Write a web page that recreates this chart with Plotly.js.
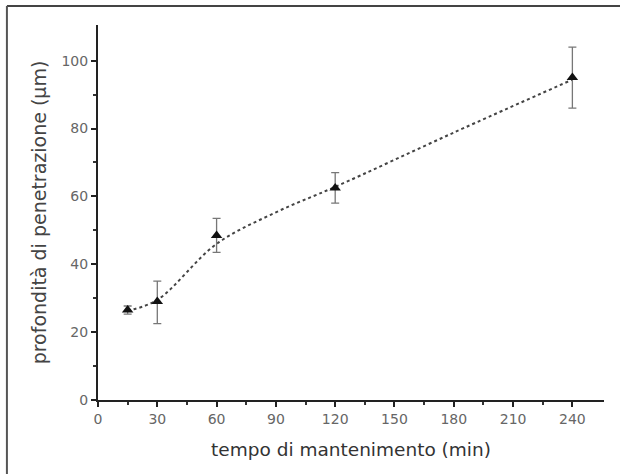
<!DOCTYPE html>
<html>
<head>
<meta charset="utf-8">
<script src="https://cdn.plot.ly/plotly-3.0.1.min.js"></script>
<style>html,body{margin:0;padding:0;background:#fff;}#chart{width:620px;height:474px;}</style>
</head>
<body>
<div id="chart"></div>
<script>
// measured data
var tempo = [15, 30, 60, 120, 240];
var profondita = [26.5, 29, 48.5, 62.5, 95];
var errPlus = [1.2, 6, 5, 4.5, 9];
var errMinus = [1.2, 6.5, 5, 4.5, 9];
// fitted trend curve
var fitX = [15, 30, 60, 90, 120, 180, 240];
var fitY = [26.3, 29.5, 46, 55.3, 62.8, 78.8, 94.4];
var xTicks = [0, 30, 60, 90, 120, 150, 180, 210, 240];
var yTicks = [0, 20, 40, 60, 80, 100];

var traces = [
  {x: fitX, y: fitY, mode: 'lines', type: 'scatter',
   line: {shape: 'spline', color: '#444', width: 2, dash: 'dot'}, hoverinfo: 'skip'},
  {x: tempo, y: profondita, mode: 'markers', type: 'scatter',
   marker: {symbol: 'triangle-up', size: 10, color: '#111'},
   error_y: {type: 'data', symmetric: false, array: errPlus, arrayminus: errMinus,
             color: '#777', thickness: 1.3, width: 4}}
];

var layout = {
  width: 620, height: 474,
  margin: {l: 98, r: 16, t: 25, b: 74},
  paper_bgcolor: '#fff', plot_bgcolor: '#fff',
  showlegend: false,
  font: {family: 'DejaVu Sans, Liberation Sans, sans-serif', color: '#444'},
  xaxis: {
    range: [0, 256], tickvals: xTicks, ticktext: xTicks.map(String),
    showgrid: false, zeroline: false, showline: true, linecolor: '#222', linewidth: 2,
    ticks: 'outside', ticklen: 5, tickcolor: '#222', tickwidth: 2,
    minor: {tickvals: [15, 45, 75, 105, 135, 165, 195, 225], ticks: 'outside', ticklen: 3, tickcolor: '#333', showgrid: false},
    tickfont: {size: 14, color: '#666'},
    title: {text: 'tempo di mantenimento (min)', font: {size: 18.5, color: '#333'}, standoff: 17}
  },
  yaxis: {
    range: [0, 110.5], tickvals: yTicks, ticktext: yTicks.map(String),
    showgrid: false, zeroline: false, showline: true, linecolor: '#222', linewidth: 2,
    ticks: 'outside', ticklen: 5, tickcolor: '#222', tickwidth: 2,
    minor: {tickvals: [10, 30, 50, 70, 90], ticks: 'outside', ticklen: 3, tickcolor: '#333', showgrid: false},
    tickfont: {size: 14, color: '#666'},
    title: {text: 'profondità di penetrazione (μm)', font: {size: 19, color: '#444'}, standoff: 10}
  },
  shapes: [
    {type: 'line', xref: 'paper', yref: 'paper', x0: -0.18, x1: 1.04, y0: 1.0507, y1: 1.0507,
     line: {color: '#444', width: 2}},
    {type: 'line', xref: 'paper', yref: 'paper', x0: -0.18, x1: -0.18, y0: 1.0507, y1: -0.2,
     line: {color: '#555', width: 2}}
  ]
};

Plotly.newPlot('chart', traces, layout, {displayModeBar: false, staticPlot: true});
</script>
</body>
</html>
